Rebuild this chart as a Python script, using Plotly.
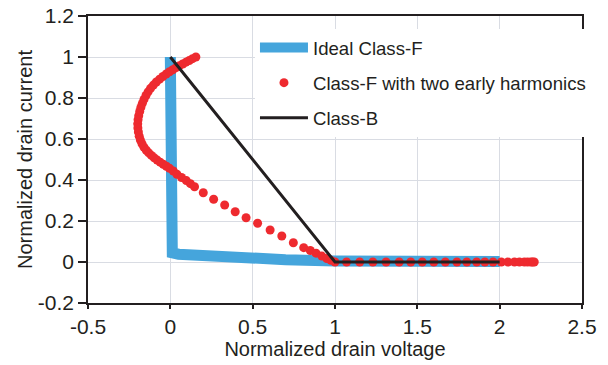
import plotly.graph_objects as go

# ---- data ----
ideal_x = [0.0, 0.0, 0.003, 0.012, 0.05, 0.15, 0.3, 0.5, 0.7, 1.0, 1.5, 2.0]
ideal_y = [1.0, 0.5, 0.07, 0.045, 0.038, 0.032, 0.025, 0.017, 0.011, 0.005, 0.003, 0.002]

early_x = [0.155, 0.135, 0.115, 0.095, 0.075, 0.055, 0.035, 0.015, -0.005, -0.025,
           -0.045, -0.065, -0.085, -0.103, -0.12, -0.135, -0.148, -0.16, -0.17, -0.179,
           -0.186, -0.192, -0.196, -0.198, -0.197, -0.194, -0.189, -0.182, -0.172, -0.16,
           -0.146, -0.131, -0.115, -0.098, -0.08, -0.062, -0.043, -0.024, -0.005, 0.018,
           0.04, 0.068, 0.097, 0.122, 0.147, 0.2, 0.263, 0.33, 0.394, 0.46,
           0.53, 0.606, 0.677, 0.747, 0.81, 0.85, 0.885, 0.92, 0.95, 0.975,
           1.0, 1.07, 1.15, 1.23, 1.31, 1.39, 1.46, 1.53, 1.6, 1.67,
           1.74, 1.8, 1.86, 1.91, 1.96, 2.01, 2.05, 2.09, 2.12, 2.15,
           2.17, 2.19, 2.2, 2.21]
early_y = [1.0, 0.992, 0.983, 0.975, 0.966, 0.957, 0.948, 0.938, 0.928, 0.917,
           0.905, 0.892, 0.878, 0.863, 0.847, 0.83, 0.812, 0.793, 0.774, 0.754,
           0.734, 0.714, 0.694, 0.674, 0.654, 0.634, 0.614, 0.595, 0.577, 0.56,
           0.545, 0.532, 0.52, 0.508, 0.497, 0.487, 0.477, 0.467, 0.457, 0.444,
           0.428, 0.412, 0.397, 0.382, 0.367, 0.338, 0.306, 0.278, 0.245, 0.216,
           0.189, 0.156, 0.127, 0.094, 0.07, 0.056, 0.043, 0.029, 0.017, 0.008,
           0.0, 0.0, 0.0, 0.0, 0.0, 0.0, 0.0, 0.0, 0.0, 0.0,
           0.0, 0.0, 0.0, 0.0, 0.0, 0.0, 0.0, 0.0, 0.0, 0.0,
           0.0, 0.0, 0.0, 0.0]

classb_x = [0.0, 1.0, 2.0]
classb_y = [1.0, 0.0, 0.0]

series_names = ["Ideal Class-F", "Class-F with two early harmonics", "Class-B"]

x_tickvals = [-0.5, 0, 0.5, 1, 1.5, 2, 2.5]
x_ticktext = ["-0.5", "0", "0.5", "1", "1.5", "2", "2.5"]
y_tickvals = [-0.2, 0, 0.2, 0.4, 0.6, 0.8, 1.0, 1.2]
y_ticktext = ["-0.2", "0", "0.2", "0.4", "0.6", "0.8", "1", "1.2"]

FONT = "Liberation Sans, Arial, Helvetica, sans-serif"
INK = "#231f20"

# ---- figure ----
fig = go.Figure()
fig.add_trace(go.Scatter(x=ideal_x, y=ideal_y, mode="lines", name=series_names[0],
                         legendgroup="a",
                         line=dict(color="#45a5dc", width=11)))
fig.add_trace(go.Scatter(x=early_x, y=early_y, mode="markers", name=series_names[1],
                         legendgroup="b",
                         marker=dict(color="#ee2a2f", size=9, line=dict(width=0))))
fig.add_trace(go.Scatter(x=classb_x, y=classb_y, mode="lines", name=series_names[2],
                         legendgroup="c",
                         line=dict(color=INK, width=3)))

axis_common = dict(
    showgrid=True, gridcolor="#d9dce3", gridwidth=1,
    showline=True, linecolor=INK, linewidth=1.5, mirror=True,
    ticks="outside", tickwidth=1.5, tickcolor=INK,
    zeroline=False, automargin=False, ticklabeloverflow="allow",
    tickfont=dict(family=FONT, size=21, color=INK),
)

fig.update_layout(
    width=608, height=365,
    margin=dict(l=88, r=26, t=16, b=62),
    paper_bgcolor="white", plot_bgcolor="white",
    font=dict(family=FONT, color=INK),
    xaxis=dict(range=[-0.5, 2.5], tickmode="array", tickvals=x_tickvals, ticktext=x_ticktext,
               ticklen=4,
               title=dict(text="Normalized drain voltage", font=dict(size=20), standoff=2),
               **axis_common),
    yaxis=dict(range=[-0.2, 1.2], tickmode="array", tickvals=y_tickvals, ticktext=y_ticktext,
               ticklen=8,
               title=dict(text="Normalized drain current", font=dict(size=20), standoff=0),
               **axis_common),
    legend=dict(x=0.338, y=0.955, xanchor="left", yanchor="top",
                bgcolor="white", borderwidth=0,
                font=dict(size=18.6, color=INK),
                traceorder="grouped", tracegroupgap=8, itemwidth=48),
    showlegend=True,
)

# remove the default 8px page margin so the 608x365 figure fills the window
fig.write_html("out.html",
               config={"displayModeBar": False},
               post_script="document.body.style.margin='0';document.body.style.overflow='hidden';")
